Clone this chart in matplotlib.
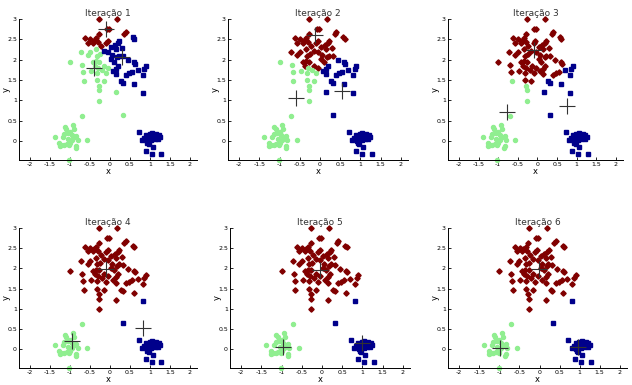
import numpy as np
import matplotlib
matplotlib.use("Agg")
import matplotlib.pyplot as plt

# pontos (mesmo conjunto nos 6 paineis)
big_x = [-0.27, 0.18, -0.08, -0.03, 0.40, 0.36, -0.28, -0.62, -0.49, -0.34, -0.40,
         0.58, 0.61, -0.56, -0.43, -0.30, -0.06, -0.10, 0.23, 0.19, 0.12, -0.23, 0.03,
         -0.35, -0.16, 0.15, 0.29, -0.05, -0.73, -0.50, -0.56, -0.33, -0.25, 0.06, 0.22,
         -1.00, -0.70, -0.43, -0.35, -0.27, -0.38, -0.30, 0.03, 0.18, 0.10, 0.32, 0.44,
         0.59, 0.62, -0.15, -0.05, 0.20, 0.15, -0.20, 0.90, 0.86, -0.68, -0.48, -0.33,
         -0.10, 0.07, 0.15, 0.40, 0.48, 0.55, 0.69, 0.82, -0.66, -0.33, -0.16, 0.28,
         0.32, 0.59, -0.28, -0.27, 0.16, -0.27, 0.82, 0.33]
big_y = [3.00, 3.00, 2.76, 2.75, 2.68, 2.64, 2.64, 2.53, 2.50, 2.54, 2.47,
         2.55, 2.52, 2.42, 2.42, 2.44, 2.46, 2.40, 2.46, 2.40, 2.36, 2.33, 2.31,
         2.25, 2.22, 2.25, 2.29, 2.20, 2.19, 2.18, 2.12, 2.10, 2.13, 2.12, 2.10,
         1.93, 1.86, 1.93, 1.97, 1.95, 1.85, 1.80, 2.02, 2.06, 1.95, 2.08, 1.98,
         1.93, 1.90, 1.85, 1.80, 1.85, 1.78, 1.75, 1.84, 1.76, 1.69, 1.71, 1.68,
         1.67, 1.71, 1.64, 1.63, 1.66, 1.70, 1.74, 1.61, 1.47, 1.49, 1.47, 1.47,
         1.43, 1.40, 1.36, 1.25, 1.21, 0.99, 1.18, 0.64]

left_x = [-0.71, -0.93, -1.10, -0.91, -1.13, -1.00, -1.06, -1.15, -0.96, -1.39, -1.18,
          -0.90, -0.84, -0.81, -0.57, -1.05, -0.95, -1.27, -1.22, -1.26, -1.15, -1.08,
          -1.00, -1.02, -0.85, -0.84, -1.02]
left_y = [0.62, 0.40, 0.30, 0.30, 0.35, 0.22, 0.20, 0.18, 0.15, 0.10, 0.10,
          0.10, 0.12, 0.02, 0.03, 0.05, 0.03, -0.05, -0.09, -0.13, -0.11, -0.08,
          -0.06, -0.11, -0.17, -0.13, -0.46]

right_x = [0.72, 0.90, 0.99, 1.05, 1.15, 1.22, 1.25, 0.80, 0.95, 0.92, 1.03, 1.12,
           1.20, 1.08, 0.85, 1.00, 0.97, 1.07, 0.89, 1.04, 1.28, 0.93]
right_y = [0.22, 0.14, 0.18, 0.20, 0.17, 0.14, 0.10, 0.02, 0.06, 0.00, 0.02, 0.05,
           0.04, 0.10, 0.08, 0.10, -0.08, -0.15, -0.25, -0.33, -0.33, -0.05]

# centroides (vermelho, verde, azul) em cada iteracao
cent_red = [(-0.09, 2.75), (-0.13, 2.60), (-0.10, 2.23), (-0.09, 1.98), (-0.05, 1.95), (-0.02, 1.98)]
cent_green = [(-0.41, 1.80), (-0.59, 1.06), (-0.77, 0.70), (-0.94, 0.20), (-0.97, 0.06), (-0.99, 0.03)]
cent_blue = [(0.30, 2.07), (0.55, 1.23), (0.75, 0.87), (0.82, 0.51), (1.00, 0.15), (0.97, 0.05)]

titles = ["Iteração %d" % i for i in range(1, 7)]

px = np.array(big_x + left_x + right_x)
py = np.array(big_y + left_y + right_y)

W, H = 632, 385
fig = plt.figure(figsize=(W / 100, H / 100), dpi=100)

# caixas dos eixos em pixels: (esquerda, topo, largura, altura)
boxes = [(19, 19, 178, 141), (228, 19, 180, 141), (448, 19, 175, 141),
         (19, 228, 178, 140), (230, 228, 180, 140), (448, 228, 179, 140)]

styles = [("#800000", "D", 2.7), ("#90ee90", "o", 2.9), ("#00008b", "s", 2.9)]

for k in range(6):
    l, t, w, h = boxes[k]
    ax = fig.add_axes([l / W, (H - t - h) / H, w / W, h / H])
    cents = np.array([cent_red[k], cent_green[k], cent_blue[k]])
    # atribuicao de cada ponto ao centroide mais proximo
    d = (px[:, None] - cents[None, :, 0]) ** 2 + (py[:, None] - cents[None, :, 1]) ** 2
    lab = d.argmin(axis=1)
    for c, (col, mk, ms) in enumerate(styles):
        m = lab == c
        ax.plot(px[m], py[m], mk, color=col, ms=ms, mec=col, ls="none", clip_on=False)
    ax.plot(cents[:, 0], cents[:, 1], "+", color="#333333", ms=12, mew=0.8, ls="none")

    ax.set_xlim(-2.28, 2.18)
    ax.set_ylim(-0.47, 3.0)
    ax.set_xticks([-2, -1.5, -1, -0.5, 0, 0.5, 1, 1.5, 2])
    ax.set_xticklabels(["-2", "-1.5", "-1", "-0.5", "0", "0.5", "1", "1.5", "2"])
    ax.set_yticks([0, 0.5, 1, 1.5, 2, 2.5, 3])
    ax.set_yticklabels(["0", "0.5", "1", "1.5", "2", "2.5", "3"])
    ax.tick_params(direction="in", length=2, width=0.6, labelsize=4.5, pad=1.5)
    for s in ["top", "right"]:
        ax.spines[s].set_visible(False)
    for s in ["left", "bottom"]:
        ax.spines[s].set_linewidth(0.7)
    ax.set_title(titles[k], fontsize=6.5, color="#333333", pad=2)
    ax.set_xlabel("x", fontsize=6, labelpad=0)
    ax.set_ylabel("y", fontsize=6)
    ax.yaxis.set_label_coords(-8.0 / w, 0.5)

fig.savefig("out.png", dpi=100)
